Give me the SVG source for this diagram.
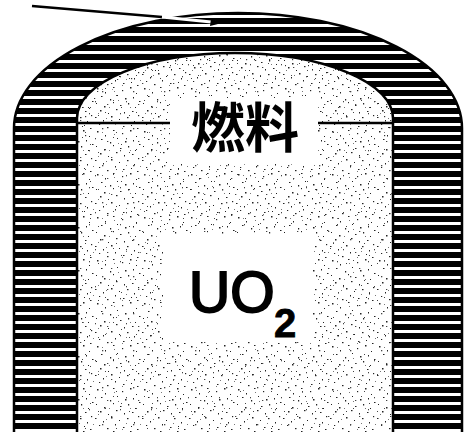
<svg xmlns="http://www.w3.org/2000/svg" width="465" height="432" viewBox="0 0 465 432">
  <style>
    .edge { fill: none; stroke: #000; stroke-width: 2.5; }
    .leader { stroke: #000; stroke-width: 2.5; fill: none; }
    .cjk { font-family: "Noto Sans CJK JP", "Noto Sans CJK SC", sans-serif; font-weight: 700; fill: #000; }
    .latin { font-family: "Liberation Sans", Arial, sans-serif; fill: #000; stroke: #000; }
  </style>
  <defs>
    <!-- horizontal hatch for the cladding wall -->
    <pattern id="hatch" patternUnits="userSpaceOnUse" width="12" height="9">
      <rect width="12" height="9" fill="#fff"/>
      <rect y="0" width="12" height="6" fill="#000"/>
    </pattern>
    <!-- two overlapping stipple tiles with different periods -->
    <pattern id="dotsA" patternUnits="userSpaceOnUse" width="47" height="43">
      <g fill="#222">
        <rect x="3" y="2" width="1.5" height="1.5"/><rect x="11" y="6" width="1" height="1.5"/>
        <rect x="19" y="1" width="1.5" height="1"/><rect x="28" y="4" width="1.2" height="1.2"/>
        <rect x="36" y="1" width="1.5" height="1.5"/><rect x="42" y="7" width="1" height="1"/>
        <rect x="7" y="10" width="1.5" height="1"/><rect x="16" y="13" width="1.2" height="1.5"/>
        <rect x="23" y="9" width="1" height="1"/><rect x="31" y="12" width="1.5" height="1.5"/>
        <rect x="39" y="11" width="1" height="1.5"/><rect x="45" y="15" width="1.5" height="1"/>
        <rect x="2" y="17" width="1" height="1"/><rect x="10" y="20" width="1.5" height="1.5"/>
        <rect x="19" y="16" width="1" height="1.2"/><rect x="26" y="19" width="1.5" height="1"/>
        <rect x="34" y="17" width="1.2" height="1.5"/><rect x="41" y="21" width="1" height="1"/>
        <rect x="6" y="24" width="1.5" height="1.5"/><rect x="14" y="27" width="1" height="1"/>
        <rect x="22" y="23" width="1.5" height="1.2"/><rect x="30" y="26" width="1" height="1.5"/>
        <rect x="38" y="25" width="1.5" height="1"/><rect x="44" y="29" width="1.2" height="1.2"/>
        <rect x="1" y="31" width="1.5" height="1"/><rect x="9" y="34" width="1" height="1.5"/>
        <rect x="17" y="30" width="1.5" height="1.5"/><rect x="25" y="33" width="1" height="1"/>
        <rect x="33" y="31" width="1.5" height="1.2"/><rect x="40" y="35" width="1" height="1.5"/>
        <rect x="5" y="38" width="1.2" height="1"/><rect x="13" y="41" width="1.5" height="1.2"/>
        <rect x="21" y="37" width="1" height="1.5"/><rect x="29" y="40" width="1.5" height="1"/>
        <rect x="37" y="39" width="1" height="1"/><rect x="43" y="42" width="1.5" height="1"/>
      </g>
      <g fill="#777">
        <rect x="8" y="3" width="1" height="1"/><rect x="24" y="14" width="1" height="1"/>
        <rect x="36" y="21" width="1" height="1"/><rect x="12" y="32" width="1" height="1"/>
        <rect x="28" y="42" width="1" height="1"/><rect x="4" y="27" width="1" height="1"/>
        <rect x="46" y="37" width="1" height="1"/><rect x="20" y="5" width="1" height="1"/>
        <rect x="32" y="36" width="1" height="1"/><rect x="15" y="21" width="1" height="1"/>
      </g>
    </pattern>
    <pattern id="dotsB" patternUnits="userSpaceOnUse" width="31" height="37">
      <g fill="#444">
        <rect x="5" y="4" width="1" height="1"/><rect x="18" y="9" width="1.3" height="1"/>
        <rect x="27" y="2" width="1" height="1.3"/><rect x="9" y="17" width="1.3" height="1.3"/>
        <rect x="23" y="21" width="1" height="1"/><rect x="2" y="27" width="1" height="1.3"/>
        <rect x="14" y="30" width="1.3" height="1"/><rect x="28" y="33" width="1" height="1"/>
        <rect x="12" y="1" width="1" height="1"/><rect x="20" y="26" width="1" height="1"/>
      </g>
    </pattern>
    <pattern id="dotsC" patternUnits="userSpaceOnUse" width="23" height="19">
      <g fill="#333">
        <rect x="2" y="3" width="1.2" height="1"/><rect x="9" y="8" width="1" height="1.2"/>
        <rect x="16" y="2" width="1.2" height="1.2"/><rect x="20" y="13" width="1" height="1"/>
        <rect x="5" y="15" width="1.2" height="1"/><rect x="13" y="12" width="1" height="1"/>
      </g>
    </pattern>
    <clipPath id="fuelClip">
      <path d="M77,432 V118 A158,65 0 0 1 393,118 V432 Z"/>
    </clipPath>
  </defs>

  <!-- cladding tube, closed dome end -->
  <g id="cladding">
    <path d="M14,432 V128 A224,115 0 0 1 462,128 V432 Z" fill="url(#hatch)"/>
    <path d="M14,432 V128 A224,115 0 0 1 462,128 V432" class="edge"/>
  </g>

  <!-- fuel pellet column -->
  <g id="fuel">
    <path d="M77,432 V118 A158,65 0 0 1 393,118 V432 Z" fill="#fff"/>
    <path d="M77,432 V118 A158,65 0 0 1 393,118 V432 Z" fill="url(#dotsA)"/>
    <path d="M77,432 V118 A158,65 0 0 1 393,118 V432 Z" fill="url(#dotsB)"/>
    <!-- denser stipple along the domed top -->
    <path d="M77,140 V118 A158,65 0 0 1 393,118 V140" fill="none" stroke="url(#dotsC)" stroke-width="22" clip-path="url(#fuelClip)"/>
    <path d="M77,432 V118 A158,65 0 0 1 393,118 V432" class="edge" stroke-width="2"/>
  </g>

  <!-- label: fuel -->
  <g id="label-fuel">
    <rect x="170" y="98" width="148" height="66" fill="#fff"/>
    <text x="245" y="148" class="cjk" font-size="54" text-anchor="middle">燃料</text>
  </g>

  <!-- label: uranium dioxide -->
  <g id="label-uo2">
    <rect x="163" y="234" width="150" height="108" fill="#fff"/>
    <text x="189" y="312" class="latin" font-size="57" stroke-width="2">UO</text>
    <text x="274" y="337" class="latin" font-size="40" font-weight="700" stroke-width="0.8">2</text>
  </g>

  <!-- leader lines -->
  <g id="connectors">
    <line x1="78" y1="123" x2="170" y2="123" class="leader"/>
    <line x1="318" y1="123" x2="393" y2="123" class="leader"/>
    <line x1="32" y1="6" x2="162" y2="17" stroke="#000" stroke-width="2.5"/>
    <line x1="162" y1="17" x2="216" y2="22.5" stroke="#fff" stroke-width="3"/>
    <path d="M211,18.5 L222,23 L210,26 Z" fill="#000"/>
  </g>
</svg>
